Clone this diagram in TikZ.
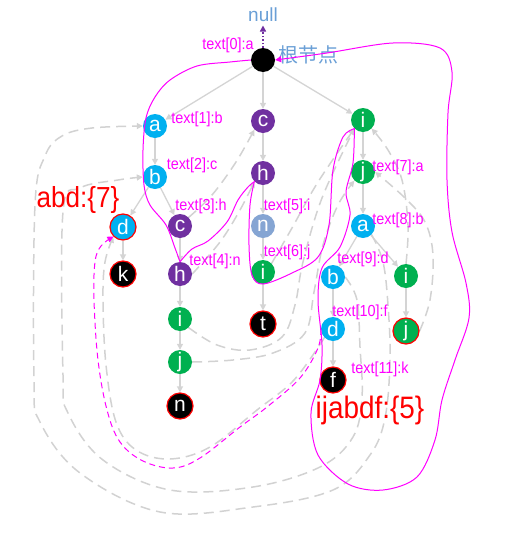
\documentclass[tikz,border=0pt]{standalone}
\usepackage{fontspec}
\setmainfont{Liberation Sans}
\newfontfamily\narrowfont[FakeStretch=0.9]{Liberation Sans}
\newfontfamily\cjkfont{Noto Sans CJK SC}
\usetikzlibrary{arrows.meta}
\definecolor{cyanC}{HTML}{00B0F0}
\definecolor{purpC}{HTML}{7030A0}
\definecolor{greenC}{HTML}{00B050}
\definecolor{steelC}{HTML}{85A5D3}
\definecolor{edgeC}{HTML}{D4D4D4}
\definecolor{failC}{HTML}{D2D2D2}
\definecolor{magC}{HTML}{FF00FF}
\definecolor{noteC}{HTML}{6A9FD6}
\pgfdeclarelayer{bg}
\pgfsetlayers{bg,main}
\begin{document}
\begin{tikzpicture}[x=1pt,y=-1pt,
  tnode/.style={circle,minimum size=24pt,inner sep=0pt,text=white,font=\fontsize{21}{21}\selectfont},
  cy/.style={tnode,fill=cyanC},
  pu/.style={tnode,fill=purpC},
  gr/.style={tnode,fill=greenC},
  st/.style={tnode,fill=steelC},
  blk/.style={tnode,fill=black},
  term/.style={draw=red,line width=1.2pt,minimum size=26pt},
  lbl/.style={text=magC,inner sep=0pt,font=\narrowfont\fontsize{16}{16}\selectfont},
  res/.style={text=red,inner sep=0pt,font=\narrowfont\fontsize{29}{29}\selectfont},
  tedge/.style={draw=edgeC,line width=1.3pt,-{Triangle[length=6pt,width=6pt]}},
  fail/.style={draw=failC,line width=1.5pt,dash pattern=on 10pt off 6pt,-{Triangle[length=6pt,width=6pt]}},
  trace/.style={draw=magC,line width=1pt}
]
\useasboundingbox (0,0) rectangle (507,536);

% nodes
\node[blk] (root) at (263,60) {};
\node[cy] (la) at (155,126) {a};
\node[cy] (lb) at (155,177) {b};
\node[cy,term] (ld) at (123,227) {d};
\node[blk,term] (lk) at (123,274) {k};
\node[pu] (lc) at (180,226) {c};
\node[pu] (lh) at (180,274) {h};
\node[gr] (li) at (180,319) {i};
\node[gr] (lj) at (180,362) {j};
\node[blk,term] (ln) at (180,406) {n};
\node[pu] (mc) at (263,121) {c};
\node[pu] (mh) at (263,173) {h};
\node[st] (mn) at (263,226) {n};
\node[gr] (mi) at (263,272) {i};
\node[blk,term] (mt) at (263,324) {t};
\node[gr] (ri) at (363,120) {i};
\node[gr] (rj) at (363,172) {j};
\node[cy] (ra) at (363,226) {a};
\node[cy] (rb) at (333,277) {b};
\node[cy] (rd) at (333,329) {d};
\node[blk,term] (rf) at (333,380) {f};
\node[gr] (ri2) at (406,276) {i};
\node[gr,term] (rj2) at (406,331) {j};

% labels
\node[text=noteC,font=\fontsize{19}{19}\selectfont] (null) at (263,15) {null};
\node[text=noteC,font=\cjkfont\fontsize{20}{20}\selectfont] (rootlbl) at (308,55) {根节点};
\node[lbl] (t0) at (228,45) {text[0]:a};
\node[lbl] (t1) at (197,119) {text[1]:b};
\node[lbl] (t2) at (192,165) {text[2]:c};
\node[lbl] (t3) at (201,206) {text[3]:h};
\node[lbl] (t4) at (215,261) {text[4]:n};
\node[lbl] (t5) at (287,206) {text[5]:i};
\node[lbl] (t6) at (287,252) {text[6]:j};
\node[lbl] (t7) at (398,167) {text[7]:a};
\node[lbl] (t8) at (398,220) {text[8]:b};
\node[lbl] (t9) at (363,259) {text[9]:d};
\node[lbl] (t10) at (360,312) {text[10]:f};
\node[lbl] (t11) at (380,369) {text[11]:k};
\node[res] (r1) at (78,200) {abd:\{7\}};
\node[res,font=\narrowfont\fontsize{31}{31}\selectfont] (r2) at (370,410) {ijabdf:\{5\}};

\begin{pgfonlayer}{bg}
% tree edges
\draw[tedge] (root) -- (la);
\draw[tedge] (root) -- (mc);
\draw[tedge] (root) -- (ri);
\draw[tedge] (la) -- (lb);
\draw[tedge] (lb) -- (ld);
\draw[tedge] (lb) -- (lc);
\draw[tedge] (ld) -- (lk);
\draw[tedge] (lc) -- (lh);
\draw[tedge] (lh) -- (li);
\draw[tedge] (li) -- (lj);
\draw[tedge] (lj) -- (ln);
\draw[tedge] (mc) -- (mh);
\draw[tedge] (mh) -- (mn);
\draw[tedge] (mn) -- (mi);
\draw[tedge] (mi) -- (mt);
\draw[tedge] (ri) -- (rj);
\draw[tedge] (rj) -- (ra);
\draw[tedge] (ra) -- (rb);
\draw[tedge] (ra) -- (ri2);
\draw[tedge] (rb) -- (rd);
\draw[tedge] (rd) -- (rf);
\draw[tedge] (ri2) -- (rj2);
% fail pointers
\draw[fail] plot[smooth,tension=0.6] coordinates {(lc.north east) (212,195) (236,162) (mc.south west)};
\draw[fail] plot[smooth,tension=0.6] coordinates {(lh.east) (220,242) (240,210) (mh.south west)};
\draw[fail] plot[smooth,tension=0.6] coordinates {(li.south east) (217,345) (250,350) (282,337) (295,305) (303,262) (322,198) (ri.south west)};
\draw[fail] plot[smooth,tension=0.6] coordinates {(lj.east) (233,360) (273,353) (305,333) (314,292) (323,245) (338,205) (rj.south west)};
\draw[fail] plot[smooth,tension=0.6] coordinates {(mi.north east) (292,228) (318,182) (ri.south west)};
\draw[fail] plot[smooth,tension=0.6] coordinates {(ra.south east) (383,262) (388,305) (390,360) (385,418) (370,455) (333,490) (253,507) (160,512) (80,473) (40,422) (34,380) (35,205) (45,156) (62,136) (92,128) (la.west)};
\draw[fail] plot[smooth,tension=0.6] coordinates {(rb.east) (357,300) (360,347) (362,397) (353,437) (320,467) (253,487) (170,490) (103,460) (68,413) (63,375) (63,212) (80,188) (118,180) (lb.west)};
\draw[fail] plot[smooth,tension=0.6] coordinates {(rd.south west) (294,380) (257,410) (210,447) (170,459) (136,450) (116,422) (106,365) (103,300) (105,262) (ld.south west)};
\draw[fail] plot[smooth,tension=0.6] coordinates {(ri2.north) (408,225) (402,180) (388,150) (ri.south east)};
\draw[fail] plot[smooth,tension=0.6] coordinates {(rj2.east) (430,300) (433,255) (425,222) (405,198) (rj.east)};
\end{pgfonlayer}

% null pointer
\draw[draw=purpC,line width=1.5pt,dotted,-{Triangle[length=6pt,width=6pt]}] (root.north) -- (null.south);

% magenta traces
\draw[trace,-{Triangle[length=6pt,width=6pt]}] plot[smooth,tension=0.55] coordinates {(root.west) (230,62) (197,66) (170,80) (155,97) (146,118) (143,150) (144,185) (150,205) (166,225) (175,248) (lh.north)}
 -- plot[smooth,tension=0.55] coordinates {(lh.north) (192,249) (208,241) (227,222) (238,200) (248,187) (mh.south west)}
 -- plot[smooth,tension=0.55] coordinates {(mh.south west) (250,205) (249,245) (252,275) (263,284) (292,273) (318,257) (329,225) (333,170) (343,137) (ri.south west)}
 -- plot[smooth,tension=0.55] coordinates {(ri.south west) (353,163) (346,192) (350,215) (340,247) (322,268) (318,300) (322,345) (320,380) (311,413) (318,455) (348,484) (383,490) (417,477) (435,440) (442,400) (455,360) (469,318) (466,283) (452,232) (447,180) (448,113) (452,72) (440,48) (393,43) (327,53) (root.east)};
\draw[trace,dash pattern=on 6pt off 4pt,-{Triangle[length=6pt,width=6pt]}] plot[smooth,tension=0.6] coordinates {(rd.west) (318,348) (300,378) (267,407) (240,427) (200,458) (173,468) (143,461) (120,442) (107,410) (98,360) (94,300) (95,262) (101,246) (ld.south west)};
\end{tikzpicture}
\end{document}
